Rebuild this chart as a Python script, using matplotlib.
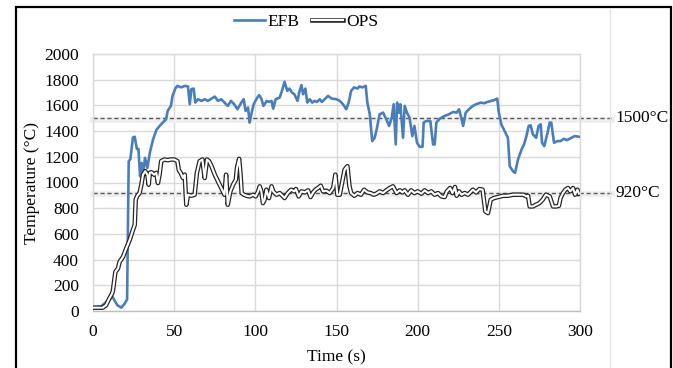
import matplotlib
matplotlib.use("Agg")
import matplotlib.pyplot as plt
import matplotlib.patheffects as pe
from matplotlib.patches import Rectangle
from matplotlib.lines import Line2D

# EFB thermocouple trace (time in s, temperature in degC)
efb_time = [0, 5, 9, 12, 15, 17.5, 19.5, 21, 22, 23, 24.6, 25.7, 27, 28, 29, 30, 31, 32,
            33.5, 35, 37, 39, 41, 43, 45, 46, 48, 49, 50.7, 52, 54.4, 56.5, 58.5, 59.6,
            60.6, 62, 63, 64.7, 66.7, 68.8, 70.8, 73, 75, 77, 79, 81, 83, 85, 87, 89,
            91.4, 92.8, 94, 95.5, 96.5, 97.5, 99, 100.6, 102.3, 103.7, 105, 107, 108.4,
            110, 111, 112.5, 115, 116.6, 118, 119.7, 121, 122.6, 124, 126, 127, 128.4,
            129.4, 130.8, 132, 133.5, 135, 136.6, 138, 139.7, 141, 142.7, 144.8, 147,
            150, 152, 154, 156, 157.5, 159, 160.8, 163, 164, 166, 168, 169, 170.5, 172,
            173.5, 174.5, 176.6, 178.7, 180.7, 182.4, 184, 185.2, 186.5, 187.3, 188.5,
            189.3, 191, 192, 193.4, 195, 196.7, 198, 199.6, 201.2, 203, 203.7, 205.4,
            207.8, 209.5, 210.5, 211.5, 213.6, 216.6, 219.3, 221.8, 224, 225.5, 227, 228,
            229.6, 232, 234, 236, 239, 241, 243, 245.4, 247.4, 249, 250, 251.5, 253.6,
            255.6, 256.7, 258.7, 260, 261.8, 264, 265.5, 267, 268.4, 269.6, 271, 273,
            274.5, 275.8, 276.6, 278, 280, 281.3, 282.3, 284, 286, 288, 290, 292, 294.7,
            296.7, 299.4]
efb_temp = [26, 36, 78, 110, 45, 26, 57, 90, 1166, 1180, 1350, 1356, 1262, 1262, 1048,
            1152, 1075, 1192, 1113, 1231, 1335, 1408, 1440, 1466, 1492, 1557, 1596, 1674,
            1732, 1752, 1740, 1752, 1747, 1609, 1726, 1731, 1622, 1648, 1635, 1648, 1635,
            1653, 1669, 1635, 1648, 1622, 1596, 1635, 1609, 1570, 1622, 1648, 1557, 1583,
            1466, 1531, 1609, 1648, 1680, 1653, 1596, 1635, 1627, 1635, 1575, 1648, 1661,
            1721, 1784, 1713, 1731, 1700, 1687, 1635, 1700, 1758, 1687, 1731, 1622, 1648,
            1622, 1635, 1627, 1648, 1627, 1648, 1674, 1653, 1648, 1635, 1609, 1570, 1622,
            1713, 1740, 1731, 1747, 1740, 1752, 1622, 1531, 1322, 1348, 1400, 1531, 1544,
            1492, 1440, 1505, 1609, 1296, 1622, 1544, 1609, 1348, 1596, 1544, 1505, 1361,
            1440, 1309, 1278, 1278, 1466, 1479, 1479, 1296, 1296, 1466, 1497, 1518, 1531,
            1549, 1544, 1570, 1497, 1440, 1544, 1575, 1596, 1609, 1622, 1617, 1627, 1635,
            1643, 1653, 1544, 1453, 1400, 1348, 1127, 1088, 1075, 1179, 1257, 1296, 1361,
            1440, 1445, 1374, 1348, 1440, 1453, 1309, 1283, 1387, 1466, 1466, 1309, 1322,
            1322, 1340, 1330, 1348, 1361, 1356]

# OPS thermocouple trace
ops_time = [0, 6, 8, 10, 11.7, 12.3, 13.8, 15.4, 16.4, 18.5, 20.5, 22.6, 24.6, 25.7,
            26.3, 27.3, 28.7, 29.8, 30.8, 32.2, 33.5, 34.3, 35, 36, 37.6, 39, 40, 41, 42,
            44, 46, 48, 50, 52, 52.8, 54, 55.4, 56.5, 57.5, 58.5, 60.6, 62.6, 64, 65.7,
            67.4, 68.8, 70.2, 71.5, 73, 75, 77, 79, 81, 82, 83, 84.6, 86.3, 88, 88.7, 90,
            90.8, 91.6, 93, 94.5, 96.5, 98.6, 100.2, 101.7, 102.7, 103.7, 104.7, 105.7,
            106.8, 108.4, 110, 111, 113, 115, 116.6, 118, 120, 122, 124, 125, 126.7,
            128.4, 130.4, 132.5, 134, 135.6, 137, 138.6, 140.3, 141.7, 143.8, 145.8, 148,
            149.3, 150.5, 152, 153, 155, 156.7, 158, 159, 161, 163, 165, 167, 169, 171,
            173, 174.5, 176.6, 178.7, 180.7, 182.8, 184.8, 187, 189, 190.6, 192, 194, 196,
            198, 200, 202.3, 204.3, 206.4, 208.4, 210.5, 212.5, 214.6, 216.6, 218, 220,
            221.4, 223, 224, 225.5, 227, 229, 231, 234, 236, 238, 240, 241.7, 243.3, 245,
            247, 249.5, 252.6, 255.6, 258.7, 261.8, 265, 267, 268, 269, 271, 273, 275,
            277, 279, 281.3, 283.4, 285.4, 287, 288, 289.5, 291, 292.6, 294, 295.7, 297,
            298.4, 299.4]
ops_temp = [26, 26, 45, 96, 135, 160, 305, 331, 383, 422, 488, 553, 631, 670, 866, 897,
            918, 983, 1061, 1088, 1061, 983, 1075, 1080, 1061, 1075, 996, 1061, 1166,
            1179, 1174, 1179, 1179, 1166, 1100, 1075, 1035, 1061, 827, 905, 897, 905,
            1075, 1166, 1179, 1035, 1179, 1166, 1127, 1061, 1009, 957, 905, 1061, 827,
            931, 983, 1022, 1113, 1184, 1075, 918, 905, 897, 892, 905, 892, 931, 970, 931,
            840, 866, 944, 879, 970, 931, 905, 918, 897, 879, 918, 944, 931, 949, 892,
            931, 923, 939, 887, 923, 944, 957, 975, 931, 936, 918, 957, 1061, 905, 905,
            970, 1100, 1127, 970, 918, 897, 918, 905, 944, 923, 918, 905, 913, 931, 918,
            939, 957, 970, 918, 939, 923, 939, 905, 939, 918, 931, 913, 939, 918, 931,
            905, 918, 892, 887, 931, 957, 918, 965, 897, 931, 905, 918, 905, 944, 923,
            949, 944, 775, 762, 866, 879, 887, 897, 897, 905, 905, 905, 892, 897, 814,
            814, 827, 840, 866, 905, 892, 814, 814, 819, 879, 918, 944, 957, 931, 957,
            905, 944, 913]

ref_levels = [1500, 920]
ref_labels = ["1500°C", "920°C"]
x_ticks = [0, 50, 100, 150, 200, 250, 300]
y_ticks = [0, 200, 400, 600, 800, 1000, 1200, 1400, 1600, 1800, 2000]

plt.rcParams["font.family"] = ["Liberation Serif", "DejaVu Serif"]
plt.rcParams["font.size"] = 12.5

W, H = 673, 368
fig = plt.figure(figsize=(W / 100, H / 100), dpi=100)
ax = fig.add_axes([93 / W, 1 - 311 / H, 487 / W, 257 / H])

grid_c = "#d9d9d9"
ax.set_xlim(0, 300)
ax.set_ylim(0, 2000)
ax.set_xticks(x_ticks)
ax.set_yticks(y_ticks)
ax.grid(True, color=grid_c, linewidth=1.0)
ax.set_axisbelow(True)
ax.tick_params(length=0, pad=10, labelsize=12.5)
ax.tick_params(axis="x", pad=9)
for side, sp in ax.spines.items():
    sp.set_color("#bfbfbf" if side == "bottom" else grid_c)
    sp.set_linewidth(1.0)

# dashed reference lines extend past the plot area
ytrans = ax.get_yaxis_transform()
for lvl, lab in zip(ref_levels, ref_labels):
    ax.plot([0, 1.066], [lvl - 12, lvl - 12], transform=ytrans, color="#eeeeee",
            linewidth=4, clip_on=False, zorder=1)
    ax.plot([0, 1.066], [lvl, lvl], transform=ytrans, color="#595959",
            linewidth=1.0, linestyle=(0, (3, 2)), clip_on=False, zorder=2)
    ax.text(1.072, lvl, lab, transform=ytrans, ha="left", va="center", fontsize=12.5)

ax.plot(efb_time, efb_temp, color="#4a7ebb", linewidth=1.9, label="EFB", zorder=3)
ax.plot(ops_time, ops_temp, color="white", linewidth=1.5, label="OPS", zorder=4,
        path_effects=[pe.Stroke(linewidth=3.3, foreground="#262626"), pe.Normal()])

ax.set_xlabel("Time (s)", labelpad=7)
ax.set_ylabel("Temperature (°C)", labelpad=3)

fig.legend(loc="center", bbox_to_anchor=(306 / W, 1 - 22 / H), ncol=2, frameon=False,
           handlelength=1.8, handletextpad=0.15, columnspacing=0.7, fontsize=12.5)

# outer frame and faint divider line
fig.add_artist(Rectangle((15.5 / W, -0.1), (671 - 15.5) / W, 1.1 - 7.5 / H,
                         transform=fig.transFigure, fill=False, edgecolor="black",
                         linewidth=1.6, clip_on=False))
fig.add_artist(Line2D([610 / W, 610 / W], [0, 1 - 8.5 / H], transform=fig.transFigure,
                      color="#e4e4e4", linewidth=1.0))

fig.savefig("out.png", dpi=100)
